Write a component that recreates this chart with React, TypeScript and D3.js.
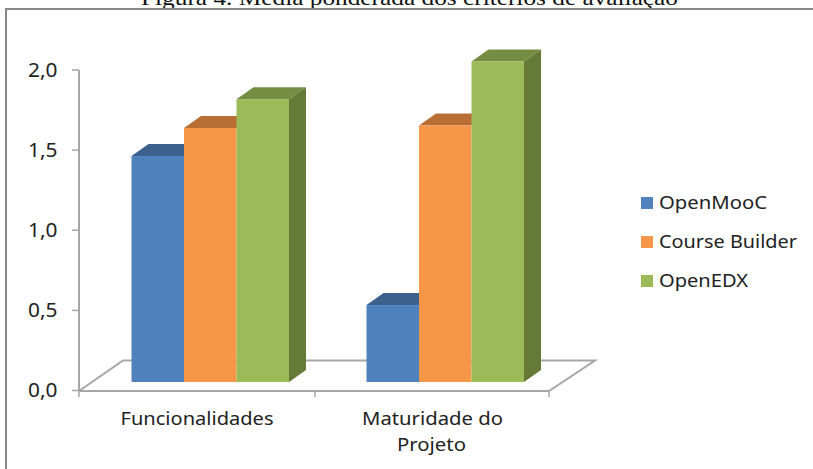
import React from "react";
import * as d3 from "d3";

const categories = ["Funcionalidades", "Maturidade do Projeto"];
const seriesNames = ["OpenMooC", "Course Builder", "OpenEDX"];
const openMooC = [1.41, 0.48];
const courseBuilder = [1.585, 1.6];
const openEDX = [1.765, 2.0];
const yTicks = [0, 0.5, 1, 1.5, 2];
const frontColors = ["#4f81bd", "#f79646", "#9bbb59"];
const topColors = ["#3c618e", "#b96f33", "#748d43"];
const sideColor = ["#35506f", "#a0602c", "#657a36"];
const font = "'Noto Sans', 'Open Sans', sans-serif";
const legendWidths = [108, 138, 89];

export default function App() {
  const series = [openMooC, courseBuilder, openEDX];
  const y = d3.scaleLinear().domain([0, 2]).range([390.5, 70]);
  const x0 = d3.scaleBand().domain(categories).range([79, 549]);
  const x1 = d3.scaleBand().domain(seriesNames).range([0, 157.5]);
  const groupOffset = 52.5;
  const dx = 17, dy = 12, lift = 8.5;
  const fmt = (v: number) => v.toFixed(1).replace(".", ",");
  const poly = (pts: number[][]) => pts.map((p) => p.join(",")).join(" ");
  const label = (txt: string, cx: number, by: number, w: number, anchor = "middle", size = 18.5) => (
    <text x={cx} y={by} textAnchor={anchor} fontFamily={font} fontSize={size} fill="#222"
      textLength={w} lengthAdjust="spacingAndGlyphs">{txt}</text>
  );
  return (
    <svg width={813} height={469} style={{ position: "fixed", left: 0, top: 0, background: "#fff" }}>
      <text x={141} y={4.5} fontFamily="'Liberation Serif', serif" fontSize={22} fill="#111"
        textLength={537} lengthAdjust="spacingAndGlyphs">
        Figura 4. Média ponderada dos critérios de avaliação
      </text>
      <rect x={6} y={9} width={900} height={600} fill="none" stroke="#868686" strokeWidth={2} />
      <path d="M79,391 L123,360.5 H595 L549,391 H79 M79,70 V391" fill="none" stroke="#a6a6a6" strokeWidth={2} />
      {yTicks.map((t) => (
        <g key={t}>
          <line x1={72} x2={79} y1={y(t)} y2={y(t)} stroke="#a6a6a6" strokeWidth={1.5} />
          {label(fmt(t), 57.5, y(t) + 6.5, 29.5, "end", 20)}
        </g>
      ))}
      {[79, 315, 549].map((t) => (
        <line key={t} x1={t} x2={t} y1={391} y2={397} stroke="#a6a6a6" strokeWidth={1.5} />
      ))}
      {categories.map((c, ci) => (
        <g key={c}>
          {seriesNames.map((s, si) => {
            const l = x0(c)! + groupOffset + x1(s)!;
            const r = l + x1.bandwidth();
            const t = y(series[si][ci]) - lift;
            const b = y(0) - lift;
            return (
              <g key={s}>
                <polygon points={poly([[l, t], [l + dx, t - dy], [r + dx, t - dy], [r, t]])} fill={topColors[si]} />
                {si === 2 && <polygon points={poly([[r, t], [r + dx, t - dy], [r + dx, b - dy], [r, b]])} fill={sideColor[si]} />}
              </g>
            );
          })}
          {seriesNames.map((s, si) => {
            const l = x0(c)! + groupOffset + x1(s)!;
            const t = y(series[si][ci]) - lift;
            const b = y(0) - lift;
            return <rect key={s} x={l} y={t} width={x1.bandwidth()} height={b - t} fill={frontColors[si]} />;
          })}
        </g>
      ))}
      {label("Funcionalidades", 197, 425, 153)}
      {label("Maturidade do", 432.5, 425, 141)}
      {label("Projeto", 431.5, 451, 69)}
      {seriesNames.map((s, i) => (
        <g key={s}>
          <rect x={641} y={197 + i * 39} width={12} height={12} fill={frontColors[i]} />
          {label(s, 659, 208.5 + i * 39, legendWidths[i], "start")}
        </g>
      ))}
    </svg>
  );
}
